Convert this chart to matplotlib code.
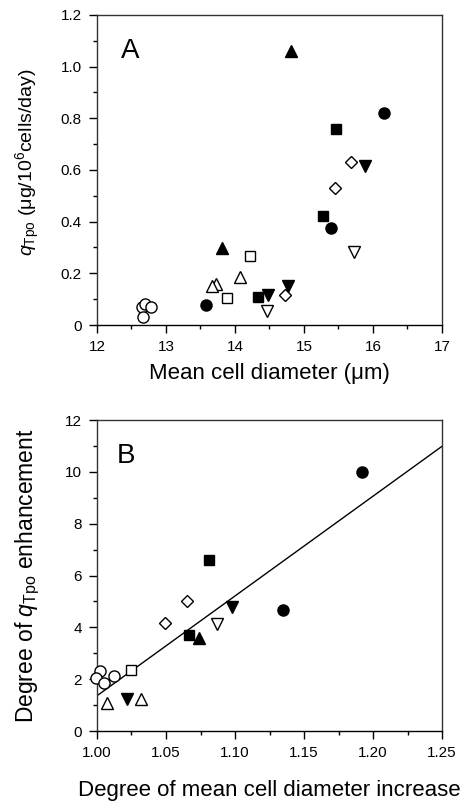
import matplotlib
matplotlib.use("Agg")
import matplotlib.pyplot as plt
from matplotlib.ticker import MultipleLocator, FuncFormatter, FormatStrFormatter
import numpy as np

plt.rcParams['font.family'] = ['Liberation Sans', 'DejaVu Sans']
plt.rcParams['mathtext.fontset'] = 'custom'
plt.rcParams['mathtext.rm'] = 'Liberation Sans'
plt.rcParams['mathtext.it'] = 'Liberation Sans:italic'

# ---------------- Panel A data: mean cell diameter (um) vs qTpo ----------------
a_filled_circle_x = [16.16, 15.39, 13.58]
a_filled_circle_y = [0.82, 0.375, 0.076]
a_open_circle_x = [12.65, 12.70, 12.78, 12.66]
a_open_circle_y = [0.07, 0.08, 0.07, 0.03]
a_filled_square_x = [15.47, 15.27, 14.33]
a_filled_square_y = [0.76, 0.42, 0.107]
a_open_square_x = [14.22, 13.89]
a_open_square_y = [0.267, 0.103]
a_filled_triup_x = [14.81, 13.81]
a_filled_triup_y = [1.06, 0.297]
a_open_triup_x = [14.07, 13.72, 13.66]
a_open_triup_y = [0.185, 0.157, 0.151]
a_filled_tridn_x = [15.88, 14.48, 14.77]
a_filled_tridn_y = [0.617, 0.116, 0.152]
a_open_tridn_x = [15.72, 14.47]
a_open_tridn_y = [0.281, 0.055]
a_open_diamond_x = [15.68, 15.45, 14.73]
a_open_diamond_y = [0.632, 0.529, 0.117]

# ---------------- Panel B data: degree of diameter increase vs enhancement ----------------
b_filled_circle_x = [1.192, 1.1345]
b_filled_circle_y = [10.0, 4.67]
b_open_circle_x = [1.002, 0.999, 1.005, 1.012]
b_open_circle_y = [2.32, 2.06, 1.87, 2.14]
b_filled_square_x = [1.081, 1.067]
b_filled_square_y = [6.58, 3.71]
b_open_square_x = [1.025]
b_open_square_y = [2.36]
b_filled_triup_x = [1.074]
b_filled_triup_y = [3.58]
b_open_triup_x = [1.007, 1.032]
b_open_triup_y = [1.07, 1.22]
b_filled_tridn_x = [1.098, 1.022]
b_filled_tridn_y = [4.77, 1.22]
b_open_tridn_x = [1.087]
b_open_tridn_y = [4.13]
b_open_diamond_x = [1.065, 1.0495]
b_open_diamond_y = [5.03, 4.16]

# regression line in panel B
fit_slope = 38.5
fit_intercept = 1.36 - 38.5 * 1.0
fit_x_range = [1.0, 1.25]

fig = plt.figure(figsize=(4.72, 8.05), dpi=100)
axA = fig.add_axes([97/472, 1-325/805, 345/472, 310/805])
axB = fig.add_axes([97/472, 1-731/805, 345/472, 311/805])

styles = [
    ('o', 'black', 8.0),
    ('o', 'white', 8.0),
    ('s', 'black', 7.0),
    ('s', 'white', 7.0),
    ('^', 'black', 8.0),
    ('^', 'white', 8.0),
    ('v', 'black', 8.0),
    ('v', 'white', 8.0),
    ('D', 'white', 6.5),
]

setsA = [(a_filled_circle_x, a_filled_circle_y), (a_open_circle_x, a_open_circle_y),
         (a_filled_square_x, a_filled_square_y), (a_open_square_x, a_open_square_y),
         (a_filled_triup_x, a_filled_triup_y), (a_open_triup_x, a_open_triup_y),
         (a_filled_tridn_x, a_filled_tridn_y), (a_open_tridn_x, a_open_tridn_y),
         (a_open_diamond_x, a_open_diamond_y)]
setsB = [(b_filled_circle_x, b_filled_circle_y), (b_open_circle_x, b_open_circle_y),
         (b_filled_square_x, b_filled_square_y), (b_open_square_x, b_open_square_y),
         (b_filled_triup_x, b_filled_triup_y), (b_open_triup_x, b_open_triup_y),
         (b_filled_tridn_x, b_filled_tridn_y), (b_open_tridn_x, b_open_tridn_y),
         (b_open_diamond_x, b_open_diamond_y)]

for ax, sets in ((axA, setsA), (axB, setsB)):
    for (xs, ys), (m, fc, ms) in zip(sets, styles):
        ax.plot(xs, ys, linestyle='none', marker=m, markersize=ms,
                markerfacecolor=fc, markeredgecolor='black', markeredgewidth=1.0,
                zorder=3, clip_on=False)

fx = np.array(fit_x_range)
axB.plot(fx, fit_intercept + fit_slope * fx, color='black', lw=1.0, zorder=2)

# axes formatting
axA.set_xlim(12, 17)
axA.set_ylim(0, 1.2)
axA.xaxis.set_major_locator(MultipleLocator(1))
axA.xaxis.set_minor_locator(MultipleLocator(0.5))
axA.yaxis.set_major_locator(MultipleLocator(0.2))
axA.yaxis.set_minor_locator(MultipleLocator(0.1))
axA.yaxis.set_major_formatter(FuncFormatter(lambda v, p: '0' if abs(v) < 1e-9 else f'{v:.1f}'))

axB.set_xlim(1.0, 1.25)
axB.set_ylim(0, 12)
axB.xaxis.set_major_locator(MultipleLocator(0.05))
axB.xaxis.set_minor_locator(MultipleLocator(0.025))
axB.yaxis.set_major_locator(MultipleLocator(2))
axB.yaxis.set_minor_locator(MultipleLocator(1))
axB.xaxis.set_major_formatter(FormatStrFormatter('%.2f'))

for ax in (axA, axB):
    for s in ax.spines.values():
        s.set_linewidth(1.0)
        s.set_color('#333333')
    ax.spines['bottom'].set_color('black')
    ax.tick_params(which='major', direction='out', length=6, width=1, labelsize=11, pad=5,
                   top=False, right=False)
    ax.tick_params(which='minor', direction='out', length=3, width=1, top=False, right=False)

axA.set_xlabel('Mean cell diameter (μm)', fontsize=16, labelpad=6)
axA.set_ylabel(r'$q_{\mathrm{Tpo}}$ (μg/10$^{6}$cells/day)', fontsize=14)
axA.yaxis.set_label_coords(-0.16, 0.524)

axB.set_xlabel('Degree of mean cell diameter increase', fontsize=16, labelpad=14)
axB.set_ylabel(r'Degree of $q_{\mathrm{Tpo}}$ enhancement', fontsize=16.5)
axB.yaxis.set_label_coords(-0.16, 0.5)

axA.text(12.48, 1.06, 'A', fontsize=20, ha='center', va='center')
axB.text(1.021, 10.6, 'B', fontsize=20, ha='center', va='center')

fig.savefig('out.png', dpi=100)
